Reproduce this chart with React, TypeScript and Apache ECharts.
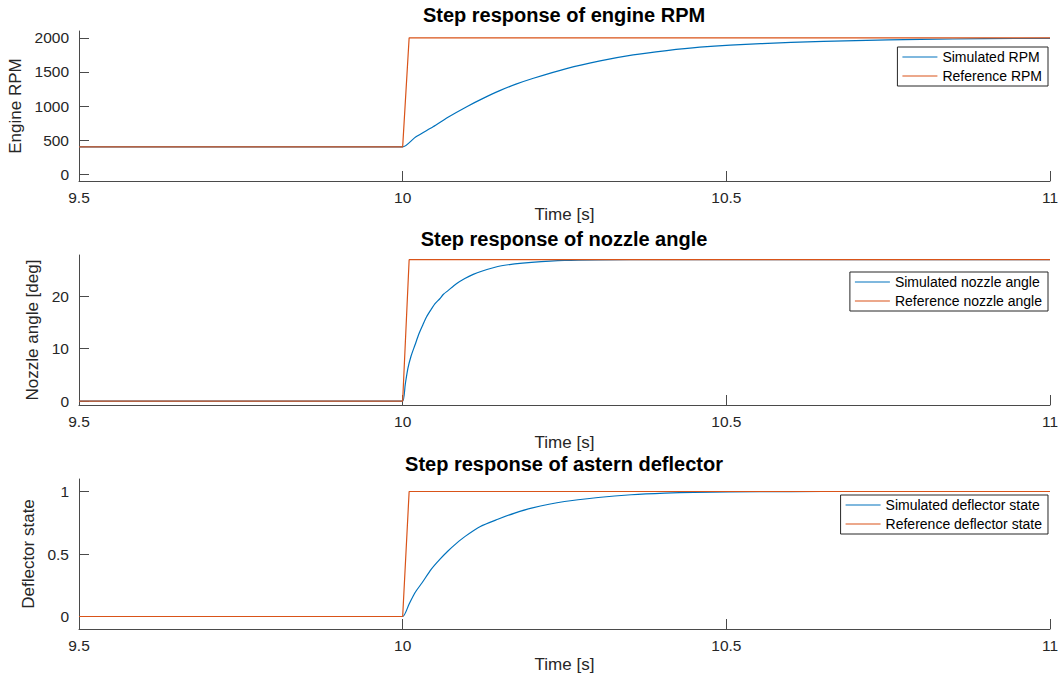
import React, { useEffect, useRef } from "react";
import * as echarts from "echarts";

// ---------- data ----------
const xMin = 9.5;
const xMax = 11;
const xInterval = 0.5;

const titles = [
  "Step response of engine RPM",
  "Step response of nozzle angle",
  "Step response of astern deflector",
];
const yNames = ["Engine RPM", "Nozzle angle [deg]", "Deflector state"];
const simNames = ["Simulated RPM", "Simulated nozzle angle", "Simulated deflector state"];
const refNames = ["Reference RPM", "Reference nozzle angle", "Reference deflector state"];
const xName = "Time [s]";

// reference step signals
const refTime = [9.5, 10, 10.01, 11];
const rpmRef = [400, 400, 2000, 2000];
const nozzleRef = [0, 0, 27, 27];
const deflRef = [0, 0, 1, 1];

// simulated responses
const rpmSimTime = [9.5, 9.99, 10, 10.02, 10.047, 10.07, 10.099, 10.125, 10.15, 10.175, 10.202, 10.253, 10.305, 10.356, 10.408, 10.459, 10.506, 10.6, 10.7, 10.8, 10.9, 11];
const rpmSim = [400, 400, 400, 545, 696, 835, 990, 1115, 1225, 1320, 1407, 1549, 1662, 1750, 1813, 1863, 1893, 1932, 1960, 1977, 1987, 1993];

const nozzleSimTime = [9.5, 9.99, 10, 10.004, 10.008, 10.013, 10.019, 10.025, 10.031, 10.037, 10.044, 10.05, 10.057, 10.063, 10.07, 10.083, 10.096, 10.109, 10.122, 10.147, 10.173, 10.199, 10.25, 10.302, 10.4, 11];
const nozzleSim = [0, 0, 0, 3.2, 6.2, 8.6, 10.7, 12.8, 14.5, 16.1, 17.5, 18.6, 19.5, 20.4, 21.1, 22.4, 23.4, 24.2, 24.8, 25.7, 26.2, 26.5, 26.86, 26.97, 27, 27];

const deflSimTime = [9.5, 9.99, 10, 10.01, 10.019, 10.03, 10.044, 10.057, 10.07, 10.083, 10.096, 10.12, 10.147, 10.173, 10.199, 10.25, 10.302, 10.353, 10.405, 10.45, 10.503, 10.6, 10.7, 11];
const deflSim = [0, 0, 0, 0.1, 0.19, 0.27, 0.377, 0.455, 0.524, 0.585, 0.639, 0.72, 0.778, 0.827, 0.867, 0.92, 0.952, 0.974, 0.987, 0.993, 0.997, 0.9995, 1, 1];

const rpmTicks = [0, 500, 1000, 1500, 2000];
const nozzleTicks = [0, 10, 20];
const deflTicks = [0, 0.5, 1];

const yLimits = [
  [-100, 2100],
  [-0.75, 27.9],
  [-0.1, 1.1],
];

// ---------- style / layout ----------
const BLUE = "#0072BD";
const ORANGE = "#D95319";
const AXIS = "#4a4a4a";
const TXT = "#262626";
const FONT = "'Liberation Sans', Arial, Helvetica, sans-serif";

const grids = [
  { left: 79, width: 971, top: 31, height: 150 },
  { left: 79, width: 971, top: 255, height: 150 },
  { left: 79, width: 971, top: 479, height: 150 },
];
const titleTops = [5, 229, 454];
const legendTops = [47, 272, 495];
const yNameGaps = [53, 33, 38];
const xNameGaps = [25, 29, 27];

function zip(xs: number[], ys: number[]) {
  return xs.map((x, i) => [x, ys[i]]);
}

export default function App() {
  const ref = useRef<HTMLDivElement>(null);

  useEffect(() => {
    document.body.style.margin = "0";
    if (!ref.current) return;
    const chart = echarts.init(ref.current, undefined, { renderer: "svg" });

    const simData = [zip(rpmSimTime, rpmSim), zip(nozzleSimTime, nozzleSim), zip(deflSimTime, deflSim)];
    const refData = [zip(refTime, rpmRef), zip(refTime, nozzleRef), zip(refTime, deflRef)];
    const ticks = [rpmTicks, nozzleTicks, deflTicks];

    const series: any[] = [];
    for (let i = 0; i < 3; i++) {
      series.push({
        type: "line",
        name: simNames[i],
        xAxisIndex: i,
        yAxisIndex: i,
        data: simData[i],
        symbol: "none",
        smooth: 0.25,
        lineStyle: { color: BLUE, width: 1.2 },
        itemStyle: { color: BLUE },
        z: 2,
      });
      series.push({
        type: "line",
        name: refNames[i],
        xAxisIndex: i,
        yAxisIndex: i,
        data: refData[i],
        symbol: "none",
        lineStyle: { color: ORANGE, width: 1.2 },
        itemStyle: { color: ORANGE },
        z: 3,
      });
    }

    const option: any = {
      animation: false,
      backgroundColor: "#ffffff",
      textStyle: { fontFamily: FONT },
      title: titles.map((t, i) => ({
        text: t,
        left: 564,
        top: titleTops[i],
        textAlign: "center",
        padding: 0,
        textStyle: { fontSize: 20, fontWeight: "bold", color: "#000", fontFamily: FONT },
      })),
      legend: [0, 1, 2].map((i) => ({
        data: [simNames[i], refNames[i]],
        orient: "vertical",
        right: 11,
        top: legendTops[i],
        icon: "rect",
        itemWidth: 35,
        itemHeight: 1.2,
        itemGap: 3,
        padding: [2, 6, 2, 5],
        borderColor: TXT,
        borderWidth: 1,
        borderRadius: 0,
        backgroundColor: "#fff",
        selectedMode: false,
        textStyle: { fontSize: 14, lineHeight: 16, color: "#000", fontFamily: FONT },
      })),
      grid: grids.map((g) => ({ ...g, containLabel: false, outerBoundsMode: "none" })),
      xAxis: [0, 1, 2].map((i) => ({
        type: "value",
        gridIndex: i,
        min: xMin,
        max: xMax,
        interval: xInterval,
        name: xName,
        nameLocation: "middle",
        nameGap: xNameGaps[i],
        nameTextStyle: { fontSize: 17, color: TXT, fontFamily: FONT },
        axisLine: { show: true, onZero: false, lineStyle: { color: AXIS, width: 1 } },
        axisTick: { show: true, inside: true, length: 10, lineStyle: { color: AXIS, width: 1 } },
        axisLabel: {
          fontSize: 15.5,
          color: TXT,
          margin: 8,
          fontFamily: FONT,
          formatter: (v: number) => String(v),
        },
        splitLine: { show: false },
      })),
      yAxis: [0, 1, 2].map((i) => ({
        type: "value",
        gridIndex: i,
        min: yLimits[i][0],
        max: yLimits[i][1],
        name: yNames[i],
        nameLocation: "middle",
        nameGap: yNameGaps[i],
        nameTextStyle: { fontSize: 17, color: TXT, fontFamily: FONT },
        axisLine: { show: true, onZero: false, lineStyle: { color: AXIS, width: 1 } },
        axisTick: {
          show: true,
          inside: true,
          length: 10,
          customValues: ticks[i],
          lineStyle: { color: AXIS, width: 1 },
        },
        axisLabel: {
          fontSize: 15.5,
          color: TXT,
          margin: 10,
          customValues: ticks[i],
          fontFamily: FONT,
          formatter: (v: number) => String(v),
        },
        splitLine: { show: false },
      })),
      series,
    };

    chart.setOption(option);
    return () => {
      chart.dispose();
    };
  }, []);

  return <div ref={ref} style={{ width: 1059, height: 681 }} />;
}
